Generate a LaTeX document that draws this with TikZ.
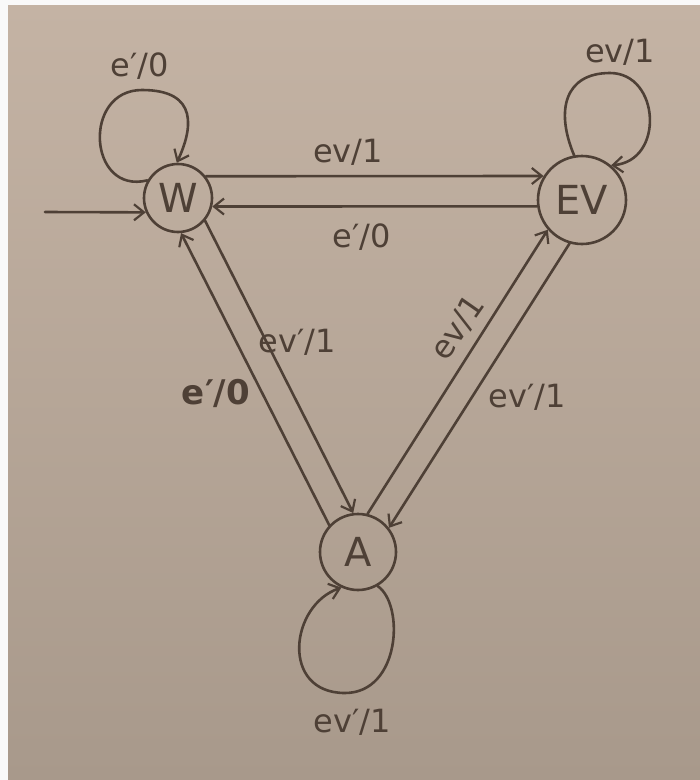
\documentclass[tikz,border=0pt]{standalone}
\usepackage{fontspec}
\setmainfont{DejaVu Sans}
\usetikzlibrary{arrows.meta,calc}
\definecolor{paperTop}{RGB}{196,179,164}
\definecolor{paperBot}{RGB}{168,153,139}
\definecolor{ink}{RGB}{78,64,54}
\tikzset{
  stateA/.style={circle,draw=ink,line width=2.6pt,inner sep=0pt,text=ink,font=\fontsize{40}{40}\selectfont},
  trans/.style={draw=ink,line width=2.6pt,line cap=round,-{Straight Barb[length=10pt,width=16pt,line width=2.2pt]}},
  lbl/.style={text=ink,font=\fontsize{32}{32}\selectfont,inner sep=0pt}
}
\begin{document}
\begin{tikzpicture}[x=1pt,y=-1pt]
\useasboundingbox (0,0) rectangle (700,780);
\fill[white!95!gray] (0,0) rectangle (700,780);
\shade[top color=paperTop,bottom color=paperBot] (8,5) rectangle (700,780);
% states
\node[stateA,minimum size=68pt] (W) at (178,198) {W};
\node[stateA,minimum size=88pt] (EV) at (582,200) {EV};
\node[stateA,minimum size=76pt] (A) at (358,552) {A};
\coordinate (init) at (45,212);
% initial
\draw[trans] (init) -- (W.204);
% W <-> EV
\draw[trans] (W.38) -- (EV.148.5);
\draw[trans] (EV.188) -- (W.-14);
% W <-> A
\draw[trans] (W.-40.5) -- (A.97);
\draw[trans] (A.137) -- (W.-85.5);
% EV <-> A
\draw[trans] (A.76.7) -- (EV.-139);
\draw[trans] (EV.-106) -- (A.38.3);
% loops
\draw[trans] (W.150) .. controls (88,195) and (82,90) .. (142,90)
  .. controls (200,90) and (192,130) .. (W.92);
\draw[trans] (EV.100) .. controls (555,110) and (565,73) .. (610,73)
  .. controls (660,73) and (665,161) .. (EV.50);
\draw[trans] (A.-60) .. controls (405,605) and (400,693) .. (345,693)
  .. controls (280,693) and (290,605) .. (A.-115);
% labels
\node[lbl] (lWW) at (140,66) {e′/0};
\node[lbl] (lEE) at (620,52) {ev/1};
\node[lbl] (lWE) at (348,152) {ev/1};
\node[lbl] (lEW) at (362,237) {e′/0};
\node[lbl] (lWA) at (297,342) {ev′/1};
\node[lbl,font=\fontsize{34}{34}\selectfont\bfseries] (lAW) at (216,393) {e′/0};
\node[lbl,rotate=55] (lAE) at (458,328) {ev/1};
\node[lbl] (lEA) at (527,397) {ev′/1};
\node[lbl] (lAA) at (352,722) {ev′/1};
\end{tikzpicture}
\end{document}
